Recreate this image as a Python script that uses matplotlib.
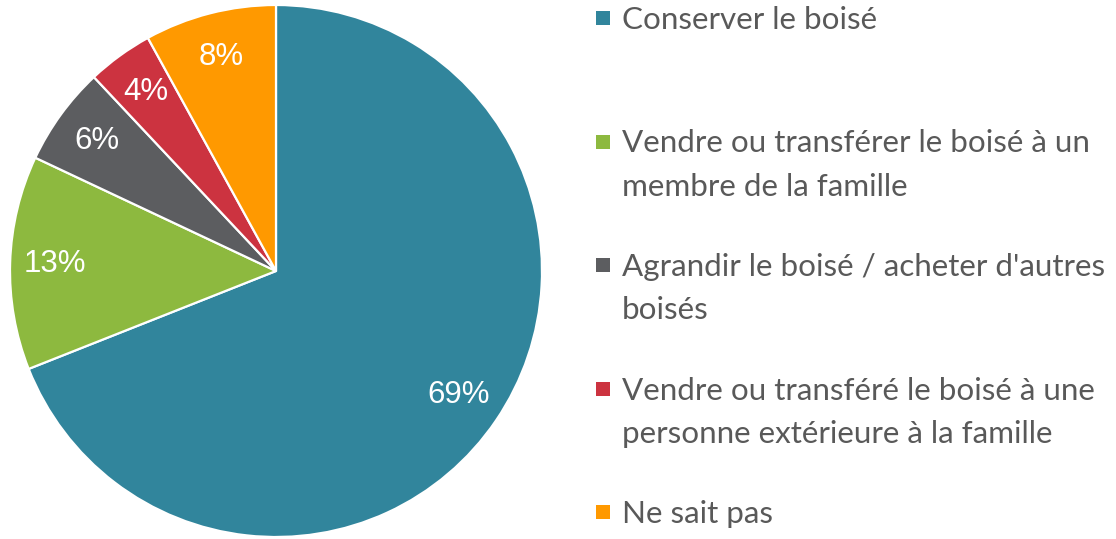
import matplotlib as mpl
import matplotlib.pyplot as plt
from matplotlib.patches import Rectangle

# intentions for the woodlot, share of respondents (%)
labels = [
    "Conserver le boisé",
    "Vendre ou transférer le boisé à un\nmembre de la famille",
    "Agrandir le boisé / acheter d'autres\nboisés",
    "Vendre ou transféré le boisé à une\npersonne extérieure à la famille",
    "Ne sait pas",
]
values = [69, 13, 6, 4, 8]
colors = ['#31859C', '#8DB93F', '#5C5D60', '#CC3340', '#FF9900']

W, H = 1116, 539
fig = plt.figure(figsize=(W / 100, H / 100), dpi=100)

# pie axes: centre ~ (276, 271) px, radius ~266 px
ax = fig.add_axes([10 / W, 2 / H, 532 / W, 532 / H])
wedges, texts, autotexts = ax.pie(
    values, colors=colors, startangle=90, counterclock=False,
    autopct=lambda p: f'{p:.0f}%', pctdistance=0.83,
    wedgeprops=dict(edgecolor='white', linewidth=1.6),
    textprops=dict(color='white', fontsize=22.5, family='Liberation Sans'),
)
ax.set_xlim(-1, 1)
ax.set_ylim(-1, 1)
ax.set_aspect('equal')
ax.axis('off')

# legend drawn by hand: square + one text per line
first_baseline = 29
entry_step = 123.5
line_step = 43
for i, (lab, col) in enumerate(zip(labels, colors)):
    y0 = first_baseline + i * entry_step
    fig.add_artist(Rectangle((596 / W, 1 - (y0 - 4) / H), 14 / W, 14 / H,
                             transform=fig.transFigure, color=col, lw=0))
    for k, line in enumerate(lab.split('\n')):
        fig.text(622 / W, 1 - (y0 + k * line_step) / H, line,
                 ha='left', va='baseline', fontsize=22.6,
                 color='#595959', family='Lato')

fig.savefig('out.png', dpi=100)
